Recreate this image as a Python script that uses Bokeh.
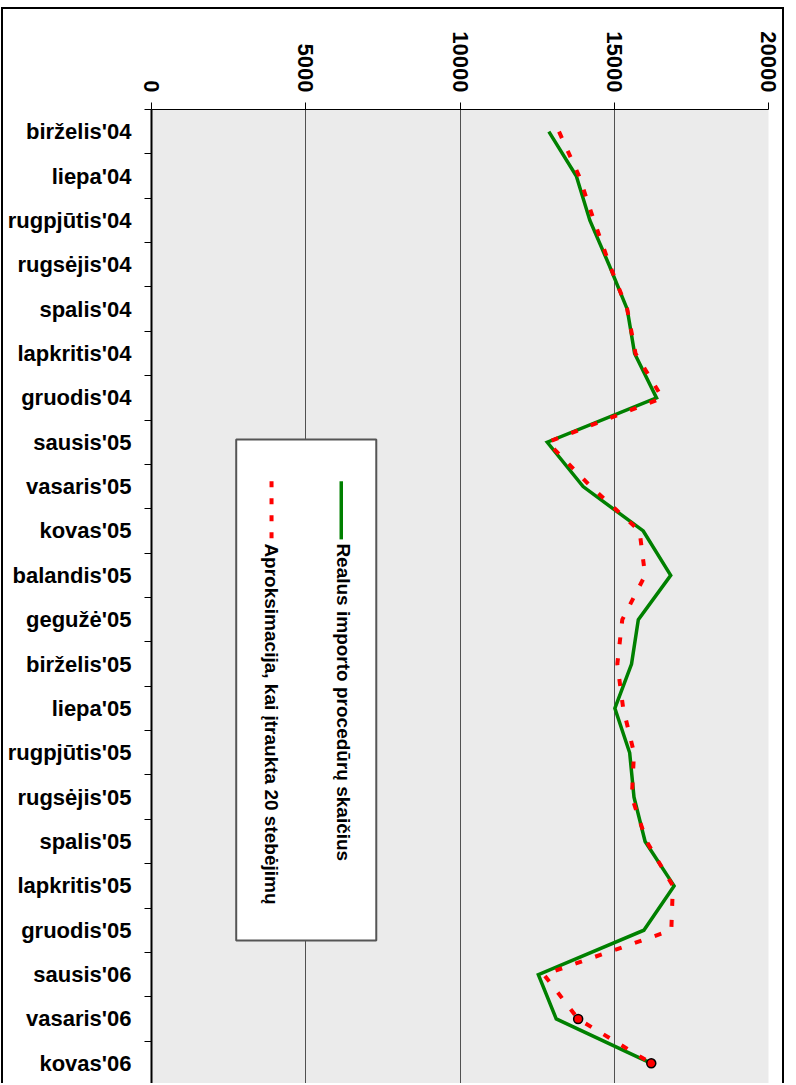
import math

from bokeh.core.properties import value
from bokeh.embed import file_html
from bokeh.models import CustomJSTickFormatter, FixedTicker, Range1d
from bokeh.plotting import figure
from bokeh.resources import INLINE

# Monthly categories (top to bottom)
months = [
    "birželis'04", "liepa'04", "rugpjūtis'04", "rugsėjis'04", "spalis'04",
    "lapkritis'04", "gruodis'04", "sausis'05", "vasaris'05", "kovas'05",
    "balandis'05", "gegužė'05", "birželis'05", "liepa'05", "rugpjūtis'05",
    "rugsėjis'05", "spalis'05", "lapkritis'05", "gruodis'05", "sausis'06",
    "vasaris'06", "kovas'06",
]

# Actual number of import procedures
real_counts = [
    12880, 13770, 14210, 14830, 15420, 15660, 16370, 12830, 13990, 15940,
    16830, 15780, 15560, 15020, 15500, 15640, 16000, 16940, 15960, 12540,
    13120, 16200,
]

# Approximation fitted on 20 observations
approx_counts = [
    13210, 13860, 14340, 14850, 15420, 15690, 16560, 12830, 14240, 15820,
    16000, 15260, 15100, 15290, 15640, 15570, 16050, 16900, 16850, 12720,
    13830, 16200,
]

value_ticks = [0, 5000, 10000, 15000, 20000]

series_names = [
    "Realus importo procedūrų skaičius",
    "Aproksimacija, kai įtraukta 20 stebėjimų",
]

FONT = "Liberation Sans"
GREEN = "#008000"
RED = "#ff0000"

rows = [i + 0.5 for i in range(len(months))]

p = figure(
    width=783, height=1076,
    x_range=Range1d(0, 20000),
    y_range=Range1d(len(months), 0),
    x_axis_location="above",
    output_backend="svg", toolbar_location=None,
    min_border_left=148, min_border_top=100,
    min_border_right=18, min_border_bottom=0,
)
# outer chart border (open at the bottom, where the chart runs off the page)
p.styles = {
    "margin-left": "1px",
    "margin-top": "7px",
    "border": "2px solid black",
    "border-bottom": "none",
}
p.background_fill_color = "#ebebeb"
p.border_fill_color = "white"
p.outline_line_color = None

# vertical gridlines at the value ticks
p.xgrid.ticker = FixedTicker(ticks=value_ticks)
p.xgrid.grid_line_color = "#505050"
p.xgrid.grid_line_width = 1
p.ygrid.grid_line_color = None

# value axis along the top, labels turned clockwise
xa = p.xaxis[0]
xa.ticker = FixedTicker(ticks=value_ticks)
xa.formatter = CustomJSTickFormatter(code="return tick.toFixed(0)")
xa.major_label_orientation = -math.pi / 2
xa.major_label_text_font = FONT
xa.major_label_text_font_size = "22px"
xa.major_label_text_font_style = "bold"
xa.major_label_text_color = "black"
xa.major_label_standoff = 10
xa.major_tick_out = 7
xa.major_tick_in = 0
xa.minor_tick_out = 0
xa.minor_tick_in = 0
xa.axis_line_color = "black"
xa.axis_line_width = 1
xa.major_tick_line_color = "black"

# month axis on the left: labels centred in rows, ticks between rows
ya = p.yaxis[0]
ya.ticker = FixedTicker(ticks=rows, minor_ticks=list(range(len(months) + 1)))
ya.formatter = CustomJSTickFormatter(args=dict(labels=months),
                                     code="return labels[Math.floor(tick)]")
ya.major_label_text_font = FONT
ya.major_label_text_font_size = "22px"
ya.major_label_text_font_style = "bold"
ya.major_label_text_color = "black"
ya.major_label_standoff = 13
ya.major_tick_out = 0
ya.major_tick_in = 0
ya.minor_tick_out = 7
ya.minor_tick_in = 0
ya.minor_tick_line_color = "black"
ya.axis_line_color = "black"
ya.axis_line_width = 2

# series
p.line(real_counts, rows, line_color=GREEN, line_width=3.5, line_join="miter")
p.line(approx_counts, rows, line_color=RED, line_width=4, line_dash="7 14")
p.scatter(approx_counts[-2:], rows[-2:], size=9, fill_color=RED,
          line_color="black", line_width=1.5)

# legend box (rotated like the rest of the chart)
p.quad(left=[2746], right=[7286], top=[7.44], bottom=[18.73],
       fill_color="white", line_color="#555555", line_width=2)
p.segment(x0=[6151], y0=[8.38], x1=[6151], y1=[9.69],
          line_color=GREEN, line_width=3.5)
p.segment(x0=[3891], y0=[8.38], x1=[3891], y1=[9.69],
          line_color=RED, line_width=4, line_dash="6 11")
p.text(x=[6226, 3891], y=[9.78, 9.78], text=series_names,
       angle=-math.pi / 2, text_font=value(FONT), text_font_size="19px",
       text_font_style="bold", text_color="black",
       text_align="left", text_baseline="middle")

open("out.html", "w").write(file_html(p, INLINE))
